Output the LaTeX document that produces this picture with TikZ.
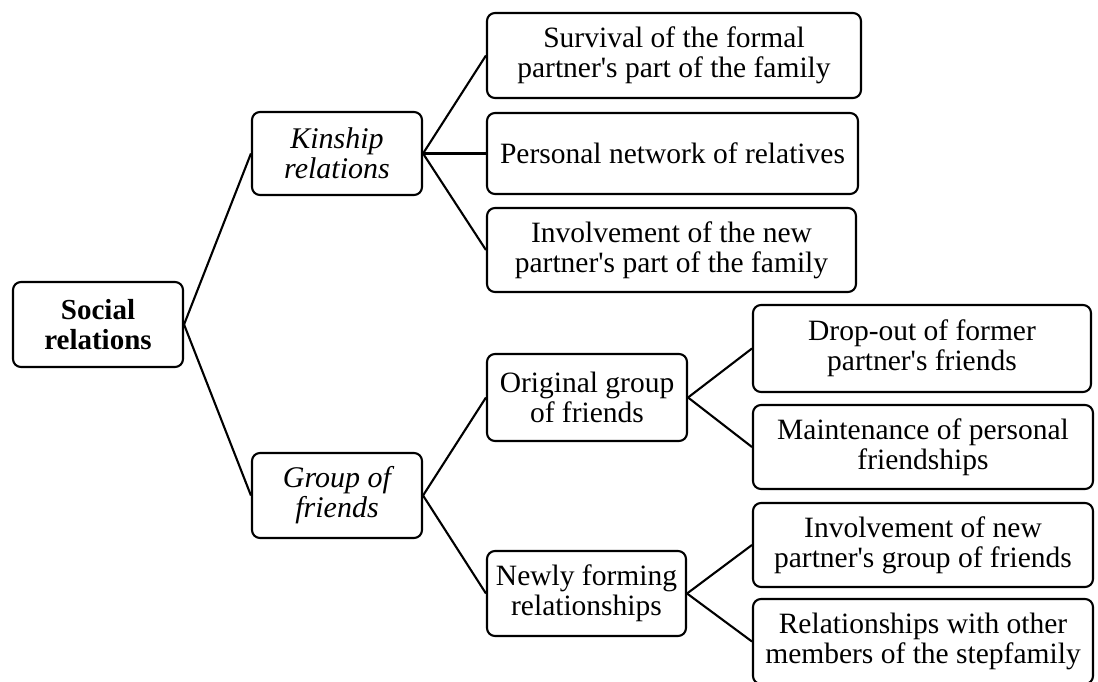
\documentclass[tikz,border=0pt]{standalone}
\usepackage{fontspec}
\setmainfont{Liberation Serif}[Ligatures=TeXOff]
\begin{document}
\begin{tikzpicture}[x=1pt,y=-1pt,
  box/.style={draw, line width=2.1pt, rounded corners=8pt, align=center, inner sep=0pt,
    font=\fontsize{29.5}{30}\selectfont},
  link/.style={line width=2.1pt}]
\useasboundingbox (0,0) rectangle (1098,682);
\node[box, minimum width=170, minimum height=85, font=\fontsize{29}{30}\selectfont\bfseries] (soc) at (98,324.5) {Social\\relations};
\node[box, minimum width=170, minimum height=83, font=\fontsize{30}{30}\selectfont\itshape] (kin) at (337,153.5) {Kinship\\relations};
\node[box, minimum width=170, minimum height=85, font=\fontsize{30}{30}\selectfont\itshape] (grp) at (337,495.5) {Group of\\friends};
\node[box, minimum width=374, minimum height=85] (s1) at (674,55.5) {Survival of the formal\\partner's part of the family};
\node[box, minimum width=371, minimum height=81] (s2) at (672.5,153.5) {Personal network of relatives};
\node[box, minimum width=369, minimum height=84] (s3) at (671.5,250) {Involvement of the new\\partner's part of the family};
\node[box, minimum width=200, minimum height=87] (org) at (587,397.5) {Original group\\of friends};
\node[box, minimum width=199, minimum height=85] (new) at (586.5,593.5) {Newly forming\\relationships};
\node[box, minimum width=338, minimum height=87] (d1) at (922,348.5) {Drop-out of former\\partner's friends};
\node[box, minimum width=340, minimum height=84] (d2) at (923,447) {Maintenance of personal\\friendships};
\node[box, minimum width=340, minimum height=84] (d3) at (923,545) {Involvement of new\\partner's group of friends};
\node[box, minimum width=340, minimum height=85] (d4) at (923,641.5) {Relationships with other\\members of the stepfamily};
\draw[link] (soc.east) -- (kin.west);
\draw[link] (soc.east) -- (grp.west);
\draw[link] (kin.east) -- (s1.west);
\draw[link] (kin.east) -- (s2.west);
\draw[link] (kin.east) -- (s3.west);
\draw[link] (grp.east) -- (org.west);
\draw[link] (grp.east) -- (new.west);
\draw[link] (org.east) -- (d1.west);
\draw[link] (org.east) -- (d2.west);
\draw[link] (new.east) -- (d3.west);
\draw[link] (new.east) -- (d4.west);
\end{tikzpicture}
\end{document}
